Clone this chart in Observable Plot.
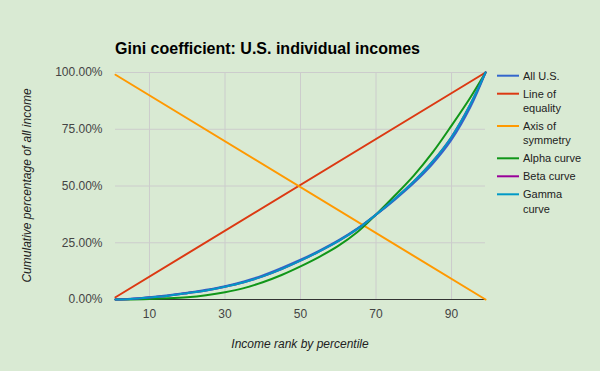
<!DOCTYPE html>
<html>
<head>
<meta charset="utf-8">
<script src="https://cdn.jsdelivr.net/npm/d3@7"></script>
<script src="https://cdn.jsdelivr.net/npm/@observablehq/plot@0.6"></script>
<style>
  html, body { margin: 0; padding: 0; background: #d9ead3; }
  #chart { width: 600px; height: 371px; position: relative; background: #d9ead3; }
  #chart svg { display: block; font-family: "Liberation Sans", Arial, sans-serif; }
</style>
</head>
<body>
<div id="chart"></div>
<script>
// ---- Data ----
const percentile = [1, 5, 10, 15, 20, 25, 30, 35, 40, 45, 50, 55, 60, 65, 70, 75, 80, 85, 90, 95, 99];
const allUS      = [0, 0.3, 1.0, 1.9, 3.0, 4.3, 5.9, 8.0, 10.6, 13.9, 17.5, 21.5, 26.0, 31.2, 37.3, 44.0, 51.3, 59.8, 70.4, 84.8, 100];
const alphaCurve = [0, 0.05, 0.2, 0.5, 1.0, 1.9, 3.2, 5.0, 7.6, 10.8, 14.6, 18.8, 23.6, 29.6, 37.4, 45.8, 54.6, 64.8, 76.6, 89.0, 100];
const betaCurve  = [0, 0.25, 0.9, 1.7, 2.8, 4.0, 5.6, 7.6, 10.2, 13.4, 17.1, 21.2, 25.7, 31.0, 37.4, 44.4, 52.0, 60.8, 71.6, 86.0, 100];
const gammaCurve = [0, 0.25, 0.9, 1.7, 2.8, 4.0, 5.6, 7.6, 10.2, 13.4, 17.1, 21.2, 25.7, 31.0, 37.4, 44.4, 52.0, 60.8, 71.6, 86.0, 100];
const lineEndsX = [1, 99];
const equality = [1, 100];
const symmetry = [99, 0];

const seriesNames = ["All U.S.", "Line of equality", "Axis of symmetry", "Alpha curve", "Beta curve", "Gamma curve"];
const legendLines = [["All U.S."], ["Line of", "equality"], ["Axis of", "symmetry"], ["Alpha curve"], ["Beta curve"], ["Gamma", "curve"]];
const seriesColors = ["#3366cc", "#dc3912", "#ff9900", "#109618", "#990099", "#0099c6"];
const xTicks = [10, 30, 50, 70, 90];
const yTicks = [0, 25, 50, 75, 100];

const titleText = "Gini coefficient: U.S. individual incomes";
const xTitle = "Income rank by percentile";
const yTitle = "Cumulative percentage of all income";

// ---- Build table ----
const rows = [];
function addSeries(name, xs, ys) { xs.forEach((x, i) => rows.push({series: name, x, y: ys[i]})); }
addSeries(seriesNames[0], percentile, allUS);
addSeries(seriesNames[1], lineEndsX, equality);
addSeries(seriesNames[2], lineEndsX, symmetry);
addSeries(seriesNames[3], percentile, alphaCurve);
addSeries(seriesNames[4], percentile, betaCurve);
addSeries(seriesNames[5], percentile, gammaCurve);

const W = 600, H = 371;
const mL = 115, mR = 115, mT = 72, mB = 72;

const plot = Plot.plot({
  width: W,
  height: H,
  marginLeft: mL,
  marginRight: mR,
  marginTop: mT,
  marginBottom: mB,
  style: {background: "#d9ead3", fontFamily: "'Liberation Sans', Arial, sans-serif"},
  x: {domain: [1, 99]},
  y: {domain: [0, 100]},
  color: {domain: seriesNames, range: seriesColors},
  marks: [
    Plot.ruleX(xTicks, {stroke: "#cccccc", strokeWidth: 1}),
    Plot.ruleY(yTicks, {stroke: "#cccccc", strokeWidth: 1}),
    Plot.axisX(xTicks, {tickSize: 0, tickPadding: 10, fontSize: 12, fill: "#444", label: null}),
    Plot.axisY(yTicks, {tickSize: 0, tickPadding: 13, fontSize: 12, fill: "#444", label: null,
      tickFormat: d => d.toFixed(2) + "%"}),
    Plot.ruleY([0], {stroke: "#333333", strokeWidth: 1}),
    Plot.line(rows, {x: "x", y: "y", z: "series", stroke: "series", strokeWidth: 2, curve: "catmull-rom"})
  ]
});
document.getElementById("chart").appendChild(plot);

// ---- Titles and legend ----
const svg = d3.select(plot);
const font = "'Liberation Sans', Arial, sans-serif";
svg.append("text").attr("x", mL).attr("y", 53.5).attr("text-anchor", "start")
  .attr("font-family", font).attr("font-size", 16).attr("font-weight", "bold").attr("fill", "#000")
  .text(titleText);
svg.append("text").attr("transform", `translate(30.5,${(mT + H - mB) / 2}) rotate(-90)`)
  .attr("text-anchor", "middle").attr("font-family", font).attr("font-size", 12)
  .attr("font-style", "italic").attr("fill", "#222").text(yTitle);
svg.append("text").attr("x", (mL + W - mR) / 2).attr("y", 347.5)
  .attr("text-anchor", "middle").attr("font-family", font).attr("font-size", 12)
  .attr("font-style", "italic").attr("fill", "#222").text(xTitle);

const lg = svg.append("g").attr("text-anchor", "start");
let ly = 75.7;
legendLines.forEach((lines, i) => {
  lg.append("line").attr("x1", 497).attr("x2", 519).attr("y1", ly).attr("y2", ly)
    .attr("stroke", seriesColors[i]).attr("stroke-width", 2);
  lines.forEach((t, j) => {
    lg.append("text").attr("x", 523).attr("y", ly + 4 + j * 14.3).attr("text-anchor", "start")
      .attr("font-family", font).attr("font-size", 11).attr("fill", "#222").text(t);
  });
  ly += 18 + 14.3 * (lines.length - 1);
});
</script>
</body>
</html>
